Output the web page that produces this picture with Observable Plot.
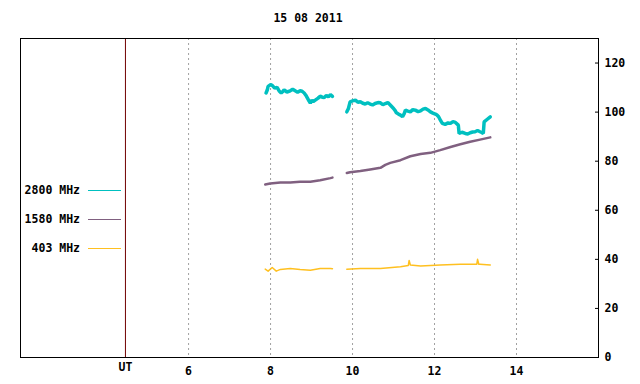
<!DOCTYPE html>
<html><head><meta charset="utf-8">
<script src="https://cdn.jsdelivr.net/npm/d3@7"></script>
<script src="https://cdn.jsdelivr.net/npm/@observablehq/plot@0.6"></script>
<style>
body{margin:0;background:#fff;}
#wrap{position:relative;width:640px;height:384px;font-family:"DejaVu Sans Mono",monospace;font-weight:bold;font-size:11.5px;color:#000;}
#title{position:absolute;left:0;width:616px;top:11px;line-height:14px;text-align:center;}
.lg{position:absolute;left:0;width:80px;line-height:14px;text-align:right;white-space:pre;}
.ln{position:absolute;left:88px;width:33px;height:1px;}
#chart{position:absolute;left:0;top:0;}
</style></head>
<body>
<div id="wrap">
  <div id="chart"></div>
  <div id="title"></div>
  <div id="legend"></div>
</div>
<script>
const titleText = "15 08 2011";
const seriesNames = ["2800 MHz", "1580 MHz", "403 MHz"];
const seriesColors = ["#00c0c0", "#806080", "#ffc020"];
const xTicks = [6, 8, 10, 12, 14];
const utTick = [4.46];
const yTicks = [0, 20, 40, 60, 80, 100, 120];

// 2800 MHz
const t2800a = [7.89,7.92,7.94,8.00,8.04,8.10,8.16,8.21,8.26,8.30,8.33,8.40,8.48,8.54,8.60,8.66,8.72,8.77,8.82,8.86,8.90,8.94,8.97,9.01,9.04,9.10,9.16,9.21,9.26,9.31,9.36,9.41,9.46,9.51];
const v2800a = [107.8,109.0,110.5,111.2,110.9,109.8,110.1,108.6,107.8,108.4,109.1,108.2,108.7,109.3,108.7,108.1,108.7,108.5,107.8,106.9,105.7,104.5,103.7,104.9,104.3,105.0,105.7,106.5,106.1,106.0,106.8,106.2,107.1,106.4];
const t2800b = [9.86,9.90,9.94,10.00,10.07,10.13,10.19,10.25,10.31,10.37,10.43,10.49,10.55,10.62,10.68,10.74,10.80,10.86,10.92,10.96,11.00,11.04,11.07,11.12,11.17,11.22,11.26,11.29,11.35,11.41,11.47,11.53,11.60,11.66,11.72,11.78,11.84,11.90,11.96,12.02,12.06,12.10,12.15,12.19,12.26,12.33,12.39,12.45,12.51,12.58,12.60,12.67,12.75,12.81,12.87,12.93,12.99,13.05,13.11,13.15,13.19,13.21,13.28,13.36];
const v2800b = [100.1,101.5,104.2,104.6,104.9,104.0,104.2,103.6,103.3,103.8,103.3,102.9,103.5,103.9,103.8,103.0,103.5,103.9,102.9,102.2,101.5,100.6,99.7,99.2,98.8,98.1,99.4,100.8,100.4,100.1,101.0,100.8,100.2,100.5,101.2,101.5,100.9,100.1,99.6,99.2,98.8,98.1,96.5,95.4,95.0,95.6,95.4,96.1,95.8,94.7,91.3,91.8,91.3,91.1,91.6,91.9,92.0,92.5,92.0,91.7,91.3,96.0,97.0,98.1];
// 1580 MHz
const t1580a = [7.87,7.99,8.24,8.48,8.72,8.97,9.21,9.46,9.51];
const v1580a = [70.5,70.9,71.3,71.3,71.6,71.6,72.2,73.1,73.3];
const t1580b = [9.86,9.94,10.19,10.43,10.68,10.80,10.92,11.17,11.41,11.66,11.90,12.14,12.39,12.63,12.87,13.11,13.36];
const v1580b = [75.2,75.5,76.0,76.6,77.3,78.5,79.3,80.4,82.0,82.9,83.4,84.5,85.8,86.9,87.9,88.8,89.7];
// 403 MHz
const t403a = [7.87,7.94,8.04,8.14,8.24,8.48,8.72,8.97,9.21,9.46,9.51];
const v403a = [36.0,35.2,36.7,35.2,35.9,36.3,35.9,35.6,36.3,36.3,36.2];
const t403b = [9.86,10.19,10.68,11.17,11.36,11.38,11.41,11.66,12.14,12.63,13.03,13.05,13.08,13.11,13.36];
const v403b = [36.0,36.3,36.3,37.0,37.5,39.5,37.7,37.3,37.7,38.0,38.0,40.0,38.0,38.0,37.7];

function rows(ta, va, tb, vb) {
  return ta.map((t, i) => ({t, v: va[i], seg: "a"}))
    .concat(tb.map((t, i) => ({t, v: vb[i], seg: "b"})));
}
const d2800 = rows(t2800a, v2800a, t2800b, v2800b);
const d1580 = rows(t1580a, v1580a, t1580b, v1580b);
const d403 = rows(t403a, v403a, t403b, v403b);

const font = '"DejaVu Sans Mono", monospace';
const chart = Plot.plot({
  width: 640, height: 384,
  marginLeft: 20, marginRight: 42, marginTop: 38, marginBottom: 27,
  x: {domain: [1.9, 16]},
  y: {domain: [0, 130]},
  style: {fontFamily: font, fontSize: "11.5px", fontWeight: "bold", color: "black", background: "white"},
  marks: [
    Plot.ruleX(xTicks, {stroke: "#a0a0a0", strokeDasharray: "2,3"}),
    Plot.ruleX(utTick, {stroke: "#700000"}),
    Plot.line(d2800, {x: "t", y: "v", z: "seg", stroke: seriesColors[0], strokeWidth: 3.5, strokeLinejoin: "miter"}),
    Plot.line(d1580, {x: "t", y: "v", z: "seg", stroke: seriesColors[1], strokeWidth: 2.5}),
    Plot.line(d403, {x: "t", y: "v", z: "seg", stroke: seriesColors[2], strokeWidth: 1.5}),
    Plot.frame({stroke: "black"}),
    Plot.axisX({ticks: xTicks, tickSize: 0, tickPadding: 9, label: null, fontWeight: "bold"}),
    Plot.text(utTick, {x: d => d, text: () => "UT", frameAnchor: "bottom", dy: 13, fontWeight: "bold"}),
    Plot.axisY({anchor: "right", ticks: yTicks, tickSize: 4, dx: -4, tickFormat: () => "", label: null}),
    Plot.axisY({anchor: "right", ticks: yTicks, tickSize: 0, tickPadding: 6, textAnchor: "start", label: null, fontWeight: "bold"})
  ]
});
document.getElementById("chart").appendChild(chart);
document.getElementById("title").textContent = titleText;

const legendY = [190, 219, 248];
const lg = document.getElementById("legend");
seriesNames.forEach((name, i) => {
  const t = document.createElement("div");
  t.className = "lg";
  t.style.top = (legendY[i] - 7) + "px";
  t.textContent = name;
  lg.appendChild(t);
  const l = document.createElement("div");
  l.className = "ln";
  l.style.top = legendY[i] + "px";
  l.style.background = seriesColors[i];
  lg.appendChild(l);
});
</script>
</body></html>
